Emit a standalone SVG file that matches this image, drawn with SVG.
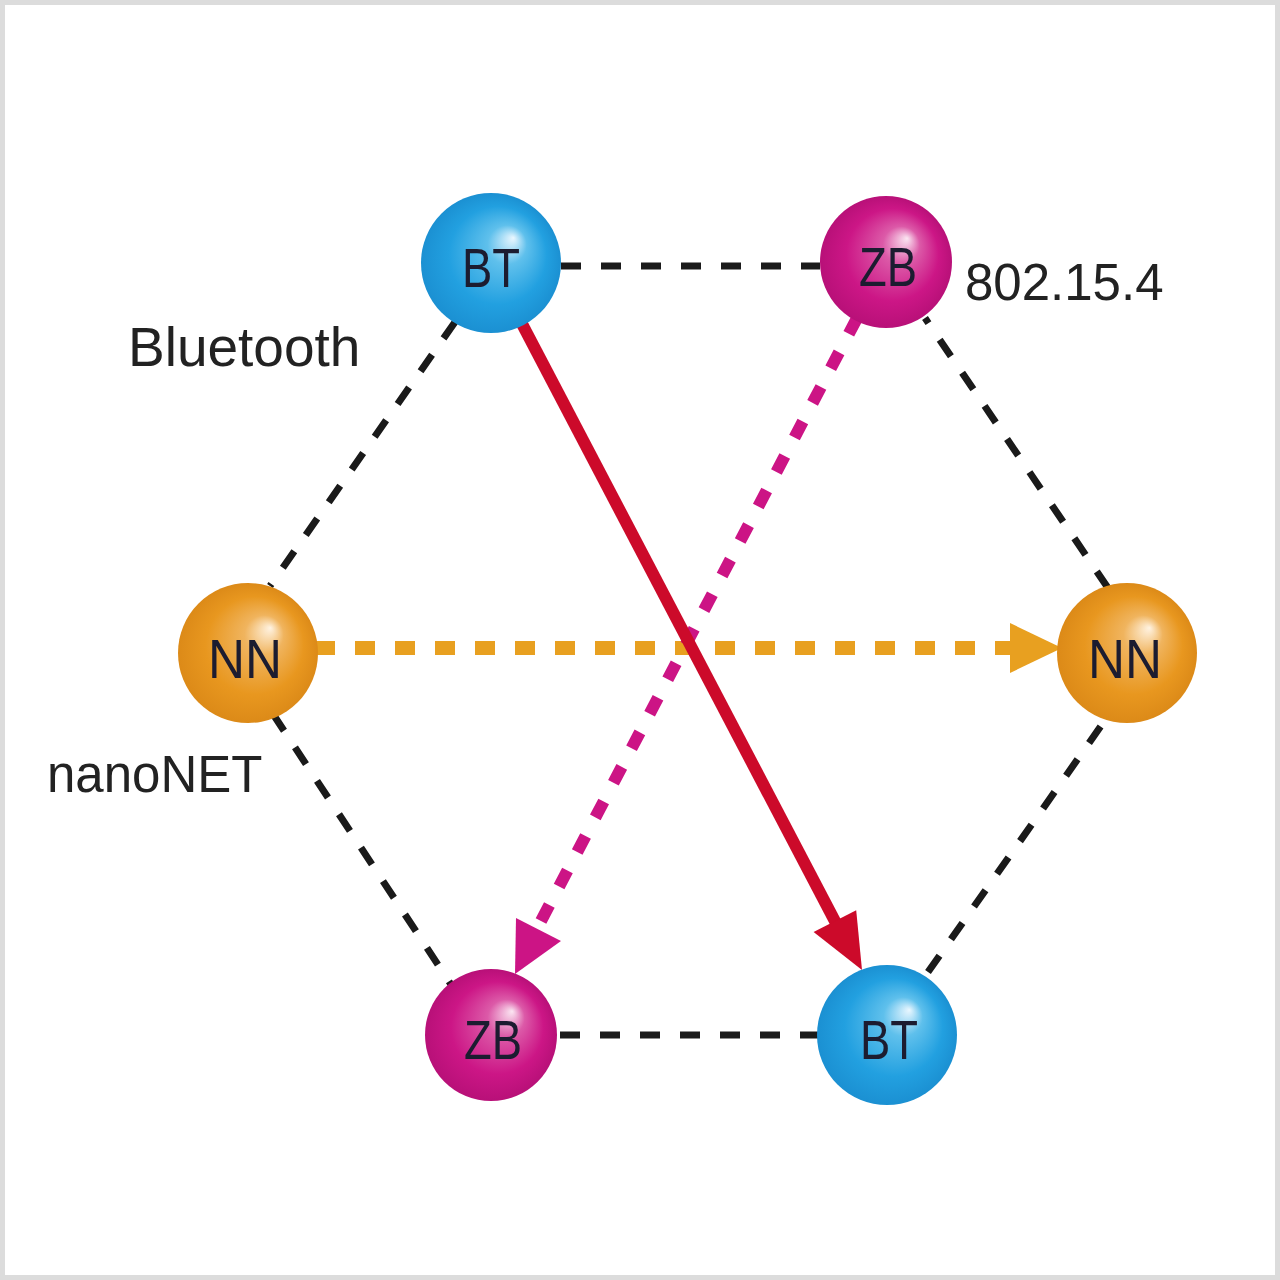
<svg xmlns="http://www.w3.org/2000/svg" width="1280" height="1280" viewBox="0 0 1280 1280">
<defs>
<radialGradient id="gBlue" cx="0.5" cy="0.5" r="0.5" fx="0.66" fy="0.32">
<stop offset="0" stop-color="#eaf7ff"/>
<stop offset="0.28" stop-color="#5fc0ec"/>
<stop offset="0.7" stop-color="#22a0e0"/>
<stop offset="1" stop-color="#1b90d2"/>
</radialGradient>
<radialGradient id="gMag" cx="0.5" cy="0.5" r="0.5" fx="0.66" fy="0.32">
<stop offset="0" stop-color="#fbe6f2"/>
<stop offset="0.28" stop-color="#dc5aa8"/>
<stop offset="0.7" stop-color="#cc1686"/>
<stop offset="1" stop-color="#b81078"/>
</radialGradient>
<radialGradient id="gOr" cx="0.5" cy="0.5" r="0.5" fx="0.66" fy="0.32">
<stop offset="0" stop-color="#fff3e2"/>
<stop offset="0.28" stop-color="#f0b45e"/>
<stop offset="0.7" stop-color="#e8971f"/>
<stop offset="1" stop-color="#dc8a18"/>
</radialGradient>
</defs>
<style>
.blk{stroke:#1a1a1a;stroke-width:7;stroke-dasharray:20 20;fill:none}
.lbl{font-family:"Liberation Sans",Arial,sans-serif;fill:#222}
.nt{font-family:"Liberation Sans",Arial,sans-serif;font-size:56px;fill:#1c1c30;text-anchor:middle}
</style>
<rect x="2.5" y="2.5" width="1275" height="1275" fill="#ffffff" stroke="#dcdcdc" stroke-width="5"/>
<g id="connectors">
<line class="blk" x1="561" y1="266" x2="820" y2="266"/>
<line class="blk" x1="455" y1="322" x2="270" y2="586"/>
<line class="blk" x1="273" y1="714" x2="452" y2="986"/>
<line class="blk" x1="560" y1="1035" x2="818" y2="1035"/>
<line class="blk" x1="928" y1="972" x2="1108" y2="716"/>
<line class="blk" x1="1108" y1="588" x2="925" y2="318"/>
<line x1="315" y1="648" x2="1014" y2="648" stroke="#e8a020" stroke-width="14" stroke-dasharray="20 20"/>
<polygon points="1062,648 1010,623 1010,673" fill="#e8a020"/>
<line x1="541" y1="921" x2="866" y2="301" stroke="#cc1485" stroke-width="12" stroke-dasharray="18 21"/>
<polygon points="515,974 516,918 561,941" fill="#cc1485"/>
<line x1="520" y1="320" x2="838" y2="927" stroke="#cc0a2a" stroke-width="12"/>
<polygon points="862,970 813.6,932 856.2,910.2" fill="#cc0a2a"/>
</g>
<g id="bt-top"><circle cx="491" cy="263" r="70" fill="url(#gBlue)"/><text class="nt" x="491" y="287" textLength="58" lengthAdjust="spacingAndGlyphs">BT</text></g>
<g id="zb-top"><circle cx="886" cy="262" r="66" fill="url(#gMag)"/><text class="nt" x="888" y="286" textLength="58" lengthAdjust="spacingAndGlyphs">ZB</text></g>
<g id="nn-left"><circle cx="248" cy="653" r="70" fill="url(#gOr)"/><text class="nt" x="245" y="678" textLength="74" lengthAdjust="spacingAndGlyphs">NN</text></g>
<g id="nn-right"><circle cx="1127" cy="653" r="70" fill="url(#gOr)"/><text class="nt" x="1125" y="678" textLength="74" lengthAdjust="spacingAndGlyphs">NN</text></g>
<g id="zb-bottom"><circle cx="491" cy="1035" r="66" fill="url(#gMag)"/><text class="nt" x="493" y="1059" textLength="58" lengthAdjust="spacingAndGlyphs">ZB</text></g>
<g id="bt-bottom"><circle cx="887" cy="1035" r="70" fill="url(#gBlue)"/><text class="nt" x="889" y="1059" textLength="58" lengthAdjust="spacingAndGlyphs">BT</text></g>
<text class="lbl" x="128" y="366" font-size="55">Bluetooth</text>
<text class="lbl" x="965" y="300" font-size="51">802.15.4</text>
<text class="lbl" x="47" y="792" font-size="51">nanoNET</text>
</svg>
